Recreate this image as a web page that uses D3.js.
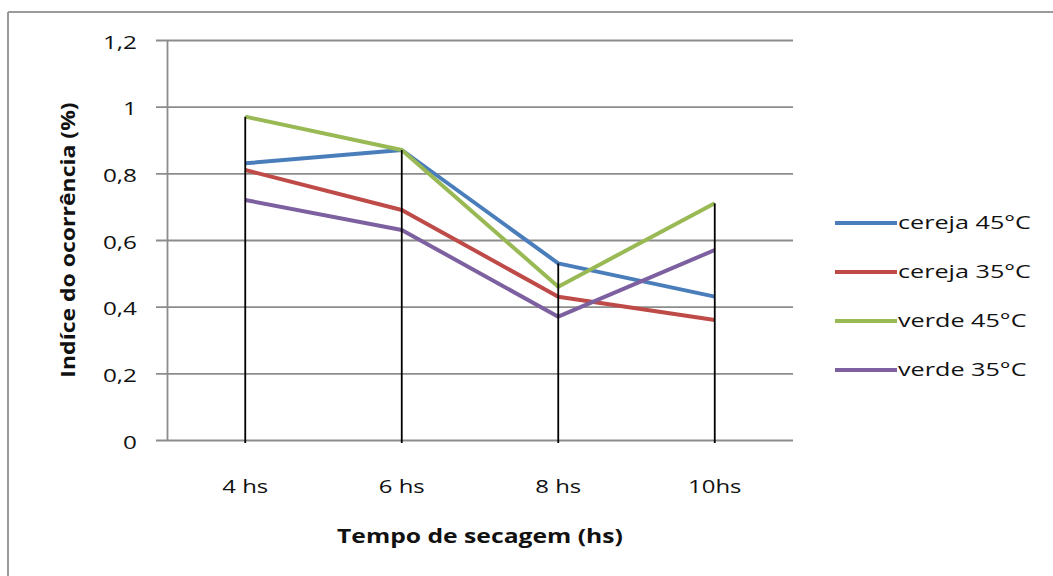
<!DOCTYPE html>
<html>
<head>
<meta charset="utf-8">
<script src="https://cdn.jsdelivr.net/npm/d3@7"></script>
<style>
  html, body { margin: 0; padding: 0; background: #fff; }
  text { font-family: "Open Sans", sans-serif; fill: #111; }
</style>
</head>
<body>
<div id="chart"></div>
<script>
var categories = ["4 hs", "6 hs", "8 hs", "10hs"];
var seriesNames = ["cereja 45°C", "cereja 35°C", "verde 45°C", "verde 35°C"];
var cereja45 = [0.83, 0.87, 0.53, 0.43];
var cereja35 = [0.81, 0.69, 0.43, 0.36];
var verde45 = [0.97, 0.87, 0.46, 0.71];
var verde35 = [0.72, 0.63, 0.37, 0.57];
var yTicks = [0, 0.2, 0.4, 0.6, 0.8, 1, 1.2];
var yTickLabels = ["0", "0,2", "0,4", "0,6", "0,8", "1", "1,2"];

var colors = ["#4a7ebb", "#be4b48", "#98b954", "#7d60a0"];
var allSeries = [cereja45, cereja35, verde45, verde35];

var W = 1053, H = 576;
var margin = {top: 40, right: 260, bottom: 136, left: 167};
var width = W - margin.left - margin.right;
var height = H - margin.top - margin.bottom;

// stretch text horizontally around its anchor
function stretch(sel, k) {
  sel.each(function() {
    var t = d3.select(this);
    var x = +t.attr("x") || 0, y = +t.attr("y") || 0;
    t.attr("x", 0).attr("y", 0)
     .attr("transform", "translate(" + x + "," + y + ") scale(" + k + ",1)");
  });
}

var svg = d3.select("#chart").append("svg")
    .attr("width", W).attr("height", H);

// outer frame (top and left edges visible)
svg.append("line").attr("x1", 8).attr("x2", W).attr("y1", 12).attr("y2", 12)
   .attr("stroke", "#9a9a9a").attr("stroke-width", 2);
svg.append("line").attr("x1", 8).attr("x2", 8).attr("y1", 12).attr("y2", H)
   .attr("stroke", "#9a9a9a").attr("stroke-width", 2);

var g = svg.append("g")
    .attr("transform", "translate(" + margin.left + "," + margin.top + ")");

var x = d3.scaleBand().domain(categories).range([0, width]);
var y = d3.scaleLinear().domain([0, 1.2]).range([height, 0]);

// y axis with gridlines
var yAxis = g.append("g")
    .call(d3.axisLeft(y).tickValues(yTicks)
      .tickFormat(function(d, i) { return yTickLabels[i]; })
      .tickSizeInner(-width).tickSizeOuter(0).tickPadding(30));
yAxis.select(".domain").attr("stroke", "#8c8c8c").attr("stroke-width", 1.8);
yAxis.selectAll(".tick line").attr("x1", -11)
    .attr("stroke", "#8c8c8c").attr("stroke-width", 1.8);
yAxis.selectAll(".tick text").style("font-size", "18px").attr("dy", "0.45em")
    .style("font-family", "Open Sans").style("font-weight", 500).attr("fill", "#111");
stretch(yAxis.selectAll(".tick text"), 1.35);

// x axis labels
var xAxis = g.append("g").attr("transform", "translate(0," + height + ")")
    .call(d3.axisBottom(x).tickSize(0).tickPadding(40));
xAxis.select(".domain").remove();
xAxis.selectAll(".tick text").style("font-size", "18px")
    .style("font-family", "Open Sans").style("font-weight", 500).attr("fill", "#111");
stretch(xAxis.selectAll(".tick text"), 1.33);

// series lines
var line = d3.line()
    .x(function(d, i) { return x(categories[i]) + x.bandwidth() / 2; })
    .y(function(d) { return y(d); });

allSeries.forEach(function(s, i) {
  g.append("path").datum(s)
    .attr("fill", "none")
    .attr("stroke", colors[i])
    .attr("stroke-width", 4)
    .attr("stroke-linejoin", "round")
    .attr("d", line);
});

// drop lines from the highest point to the axis
g.append("g").selectAll("line")
  .data(categories)
  .enter().append("line")
  .attr("x1", function(d) { return x(d) + x.bandwidth() / 2; })
  .attr("x2", function(d) { return x(d) + x.bandwidth() / 2; })
  .attr("y1", function(d, i) { return y(d3.max(allSeries, function(s) { return s[i]; })); })
  .attr("y2", height + 3)
  .attr("stroke", "#000").attr("stroke-width", 1.8);

// axis titles
var xt = g.append("text")
    .attr("x", width / 2).attr("y", height + 103)
    .attr("text-anchor", "middle")
    .style("font-size", "19px").style("font-weight", "bold")
    .text("Tempo de secagem (hs)");
stretch(xt, 1.3);

g.append("text")
    .attr("transform", "translate(-92," + (height / 2) + ") rotate(-90) scale(1.15,1)")
    .attr("text-anchor", "middle")
    .style("font-size", "20px").style("font-weight", "bold")
    .text("Indíce do ocorrência (%)");

// legend
var legend = svg.append("g").attr("transform", "translate(835,223)");
seriesNames.forEach(function(name, i) {
  var row = legend.append("g").attr("transform", "translate(0," + (i * 49) + ")");
  row.append("line").attr("x1", 0).attr("x2", 62)
    .attr("stroke", colors[i]).attr("stroke-width", 4);
  var t = row.append("text").attr("x", 63).attr("y", 0).attr("dy", "0.36em")
    .style("font-size", "18px").style("font-weight", 500).text(name);
  stretch(t, 1.4);
});
</script>
</body>
</html>
